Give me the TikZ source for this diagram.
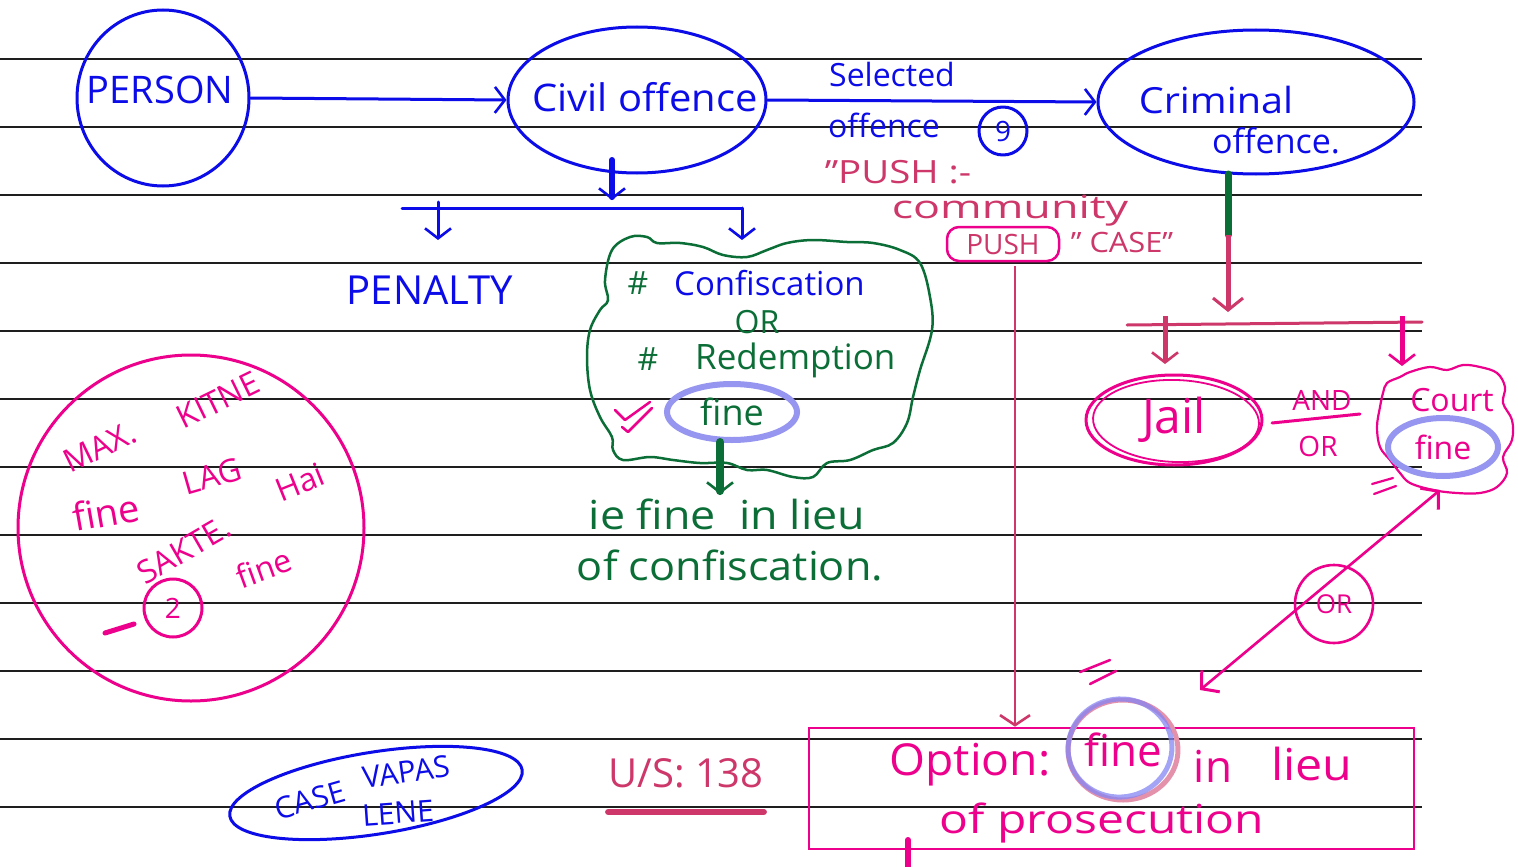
\documentclass[tikz,border=0pt]{standalone}
\usepackage{fontspec}
\setmainfont{Open Sans}
\usetikzlibrary{arrows.meta,shapes.geometric,calc}

\definecolor{blueink}{RGB}{12,12,232}
\definecolor{greenink}{RGB}{12,110,55}
\definecolor{pinkink}{RGB}{236,0,140}
\definecolor{crimsonink}{RGB}{205,55,105}
\definecolor{lavenderink}{RGB}{150,150,240}
\definecolor{ruleink}{RGB}{30,30,30}

\tikzset{
  rule/.style={ruleink, line width=1.8pt},
  pen/.style={line width=3pt, line cap=round, line join=round},
  fat/.style={line width=6pt, line cap=round},
  handtip/.style={-{Straight Barb[length=10pt,width=26pt,line width=2.6pt]}},
  bothtips/.style={{Straight Barb[length=12pt,width=28pt,line width=3pt]}-{Straight Barb[length=12pt,width=28pt,line width=3pt]}},
  ring/.style={ellipse, draw, pen, inner sep=0pt},
  marker/.style={ellipse, draw=lavenderink, line width=6pt, inner sep=0pt},
  lbl/.style={inner sep=0pt, font=\fontsize{#1}{#1}\selectfont},
  lbl/.default=30
}

\begin{document}
\begin{tikzpicture}[x=1pt,y=-1pt]
\useasboundingbox (0,0) rectangle (1518,867);
\clip (0,0) rectangle (1518,867);
\fill[white] (0,0) rectangle (1518,867);

% ruled paper
\foreach \k in {0,...,11}
  \draw[rule] (0,59+68*\k) -- (1422,59+68*\k);

% ---------- top row ----------
\node[ring, draw=blueink, minimum width=172, minimum height=176] (person) at (163,98) {};
\node[lbl=38, blueink] (personlbl) at (160,90) {PERSON};

\node[ring, draw=blueink, minimum width=258, minimum height=146] (civil) at (637,100) {};
\node[lbl=38, blueink, xscale=1.05] (civillbl) at (645,97) {Civil offence};

\node[ring, draw=blueink, minimum width=316, minimum height=144] (criminal) at (1256,102) {};
\node[lbl=36, blueink, xscale=1.1] (crimlbl1) at (1216,100) {Criminal};
\node[lbl=34, blueink] (crimlbl2) at (1276,141) {offence.};

\draw[blueink, pen, handtip] (person.east) -- (civil.west);
\draw[blueink, pen, handtip] (civil.east) -- (criminal.west);

\node[lbl=32, blueink] (selected) at (892,74) {Selected};
\node[lbl=32, blueink] (offlbl) at (884,125) {offence};
\node[circle, draw=blueink, pen, minimum size=48, inner sep=0pt, font=\fontsize{28}{28}\selectfont, text=blueink] (nine) at (1003,131) {9};

% push notes
\node[lbl=32, crimsonink, xscale=1.2] (push1) at (898,172) {"PUSH :-};
\node[lbl=32, crimsonink, xscale=1.4] (push2) at (1010,211) {community};
\node[draw=pinkink, line width=2.5pt, rounded corners=12pt, minimum width=112, minimum height=34, inner sep=0pt, text=crimsonink, font=\fontsize{28}{28}\selectfont] (pushring) at (1003,244) {PUSH};
\node[lbl=28, crimsonink, xscale=1.1] (push4) at (1122,242) {" CASE"};

% ---------- civil offence branch ----------
\coordinate (cstem) at (612,160);
\coordinate (csplit) at (612,200);
\coordinate (barL) at (402,208);
\coordinate (barR) at (742,208);
\coordinate (penTop) at (438,202);
\coordinate (penEnd) at (438,240);
\coordinate (confEnd) at (742,240);

\draw[blueink, fat, -{Straight Barb[length=10pt,width=26pt,line width=2.6pt]}] (cstem) -- (csplit);
\draw[blueink, pen] (barL) -- (barR);
\draw[blueink, pen, handtip] (penTop) -- (penEnd);
\draw[blueink, pen, handtip] (barR) -- (confEnd);

\node[lbl=40, blueink] (penalty) at (430,290) {PENALTY};

% green bubble of options
\draw[greenink, line width=2.5pt] plot[smooth cycle, tension=0.6] coordinates {
 (608,300) (605,280) (612,250) (630,237) (647,237) (657,243) (680,243)
 (703,247) (723,255) (747,257) (767,250) (787,243) (813,240) (847,242)
 (873,243) (900,250) (920,263) (930,297) (932,330) (920,370) (913,397)
 (907,423) (893,443) (873,450) (850,460) (827,463) (813,477) (793,477)
 (767,470) (747,470) (727,463) (700,463) (673,460) (650,457) (623,460)
 (613,450) (612,437) (600,417) (590,390) (587,357) (590,330) (600,310)};

\node[lbl=32, greenink] (hashA) at (638,283) {\#};
\node[lbl=33, blueink, anchor=west] (conf) at (674,283) {Confiscation};
\node[lbl=32, greenink] (orA) at (757,322) {OR};
\node[lbl=32, greenink] (hashB) at (648,359) {\#};
\node[lbl=35, greenink, anchor=west] (redem) at (695,360) {Redemption};
\node[marker, minimum width=130, minimum height=56, text=greenink, font=\fontsize{36}{36}\selectfont] (fineA) at (732,412) {fine};
\draw[pinkink, line width=2.5pt, line cap=round, line join=round] (615,410) -- (625,420) -- (650,402);
\draw[pinkink, line width=2.5pt, line cap=round, line join=round] (622,427) -- (628,432) -- (652,408);

\coordinate (gTop) at (720,442);
\coordinate (gEnd) at (720,494);
\draw[greenink, line width=8pt, line cap=round, -{Straight Barb[length=10pt,width=26pt,line width=2.6pt]}] (gTop) -- (gEnd);

\node[lbl=40, greenink, xscale=1.12] (lieu1) at (727,514) {ie fine \ in lieu};
\node[lbl=40, greenink, xscale=1.08] (lieu2) at (730,565) {of confiscation.};

% ---------- criminal offence branch ----------
\coordinate (kTop) at (1228,174);
\coordinate (kMid) at (1228,235);
\coordinate (kEnd) at (1228,312);
\coordinate (kbarL) at (1127,325);
\coordinate (kbarR) at (1422,322);
\coordinate (jTop) at (1165,316);
\coordinate (jEnd) at (1165,364);
\coordinate (cTop) at (1402,316);
\coordinate (cEnd) at (1402,366);

\draw[greenink, line width=7pt, line cap=round] (kTop) -- (kMid);
\draw[crimsonink, line width=5pt, -{Straight Barb[length=12pt,width=30pt,line width=3pt]}] (kMid) -- (kEnd);
\draw[crimsonink, pen] (kbarL) -- (kbarR);
\draw[crimsonink, line width=5pt, -{Straight Barb[length=10pt,width=26pt,line width=2.6pt]}] (jTop) -- (jEnd);
\draw[pinkink, line width=5pt, -{Straight Barb[length=10pt,width=26pt,line width=2.6pt]}] (cTop) -- (cEnd);

\node[ring, draw=pinkink, minimum width=176, minimum height=90, text=pinkink, font=\fontsize{48}{48}\selectfont] (jail) at (1174,420) {Jail};
\draw[pinkink, line width=1.8pt, rotate around={-2:(1176,421)}] (1176,421) ellipse [x radius=83, y radius=41];

\node[lbl=28, pinkink] (andlbl) at (1322,400) {AND};
\draw[pinkink, pen] (1272,423) -- (1360,414);
\node[lbl=28, pinkink] (orB) at (1318,446) {OR};

% court fine bubble
\draw[pinkink, line width=2.2pt] plot[smooth cycle, tension=0.6] coordinates {
 (1387,383) (1400,377) (1410,372) (1430,367) (1447,370) (1463,365) (1480,367)
 (1497,373) (1505,387) (1503,403) (1512,420) (1512,440) (1503,457) (1507,473)
 (1497,487) (1480,493) (1457,493) (1433,490) (1410,483) (1400,473) (1390,460)
 (1380,447) (1377,427) (1380,407) (1383,393)};
\node[lbl=32, pinkink] (courtlbl) at (1452,400) {Court};
\node[marker, minimum width=110, minimum height=58, text=pinkink, font=\fontsize{32}{32}\selectfont] (fineB) at (1443,447) {fine};
\draw[pinkink, line width=2.2pt, line cap=round] (1372,484) -- (1393,478) (1374,494) -- (1396,486);

% either-or link between the two fines
\coordinate (linkTop) at (1440,490);
\coordinate (linkBot) at (1200,690);
\draw[pinkink, line width=2.6pt, bothtips] (linkTop) -- (linkBot);
\node[circle, draw=pinkink, line width=2.6pt, minimum size=78, inner sep=0pt, text=pinkink, font=\fontsize{26}{26}\selectfont] (orC) at (1334,604) {\raisebox{-8pt}{OR}};
\draw[pinkink, line width=2.5pt, line cap=round] (1080,672) -- (1110,660) (1090,684) -- (1116,671);

% ---------- option box ----------
\node[draw=pinkink, line width=2.6pt, minimum width=605, minimum height=121, inner sep=0pt] (opt) at (1111.5,788.5) {};
\node[lbl=44, pinkink, xscale=1.05] (optA) at (970,765) {Option:};
\node[ellipse, draw=crimsonink!55, line width=5pt, minimum width=100, minimum height=100, inner sep=0pt, text=pinkink, font=\fontsize{44}{44}\selectfont] (fineC) at (1123,750) {\raisebox{-14pt}{fine}};
\draw[blueink!50, line width=5pt, opacity=0.75, rotate around={8:(1120,748)}] (1120,748) ellipse [x radius=52, y radius=49];
\node[lbl=44, pinkink] (optIn) at (1213,766) {in};
\node[lbl=44, pinkink, xscale=1.1] (optLieu) at (1312,764) {lieu};
\node[lbl=40, pinkink, xscale=1.2] (optB) at (1102,823) {of prosecution};

\coordinate (pushDrop) at (1015,266);
\draw[crimsonink, line width=2.2pt, -{Straight Barb[length=10pt,width=30pt,line width=2.6pt]}] (pushDrop) -- (pushDrop |- opt.north);

\coordinate (stubTop) at (908,840);
\coordinate (stubEnd) at (908,880);
\draw[pinkink, line width=6pt, line cap=round, -{Straight Barb[length=10pt,width=26pt,line width=2.6pt]}] (stubTop) -- (stubEnd);

% ---------- side notes ----------
\node[circle, draw=pinkink, pen, minimum size=346, inner sep=0pt] (maxring) at (191,528) {};
\node[lbl=32, pinkink, rotate=26] (maxA) at (100,447) {MAX.};
\node[lbl=32, pinkink, rotate=26] (maxB) at (218,400) {KITNE};
\node[lbl=38, pinkink, rotate=10] (maxC) at (106,512) {fine};
\node[lbl=32, pinkink, rotate=16] (maxD) at (212,476) {LAG};
\node[lbl=32, pinkink, rotate=30] (maxE) at (184,550) {SAKTE.};
\node[lbl=32, pinkink, rotate=22] (maxF) at (300,482) {Hai};
\node[lbl=32, pinkink, rotate=20] (maxG) at (264,568) {fine};
\node[circle, draw=pinkink, pen, minimum size=58, inner sep=0pt, font=\fontsize{28}{28}\selectfont, text=pinkink] (two) at (173,608) {2};
\draw[pinkink, line width=5pt, line cap=round] (105,633) -- (134,624);

\node[ellipse, draw=blueink, pen, minimum width=296, minimum height=82, inner sep=0pt, rotate=9] (caseRing) at (376,793) {};
\node[lbl=30, blueink, rotate=16] (case1) at (310,800) {CASE};
\node[lbl=30, blueink, rotate=8] (case2) at (406,772) {VAPAS};
\node[lbl=30, blueink, rotate=4] (case3) at (398,813) {LENE};

\node[lbl=40, crimsonink] (usec) at (686,773) {U/S: 138};
\draw[crimsonink, line width=6pt, line cap=round] (usec.south west |- 0,812) -- (usec.south east |- 0,812);

\end{tikzpicture}
\end{document}
